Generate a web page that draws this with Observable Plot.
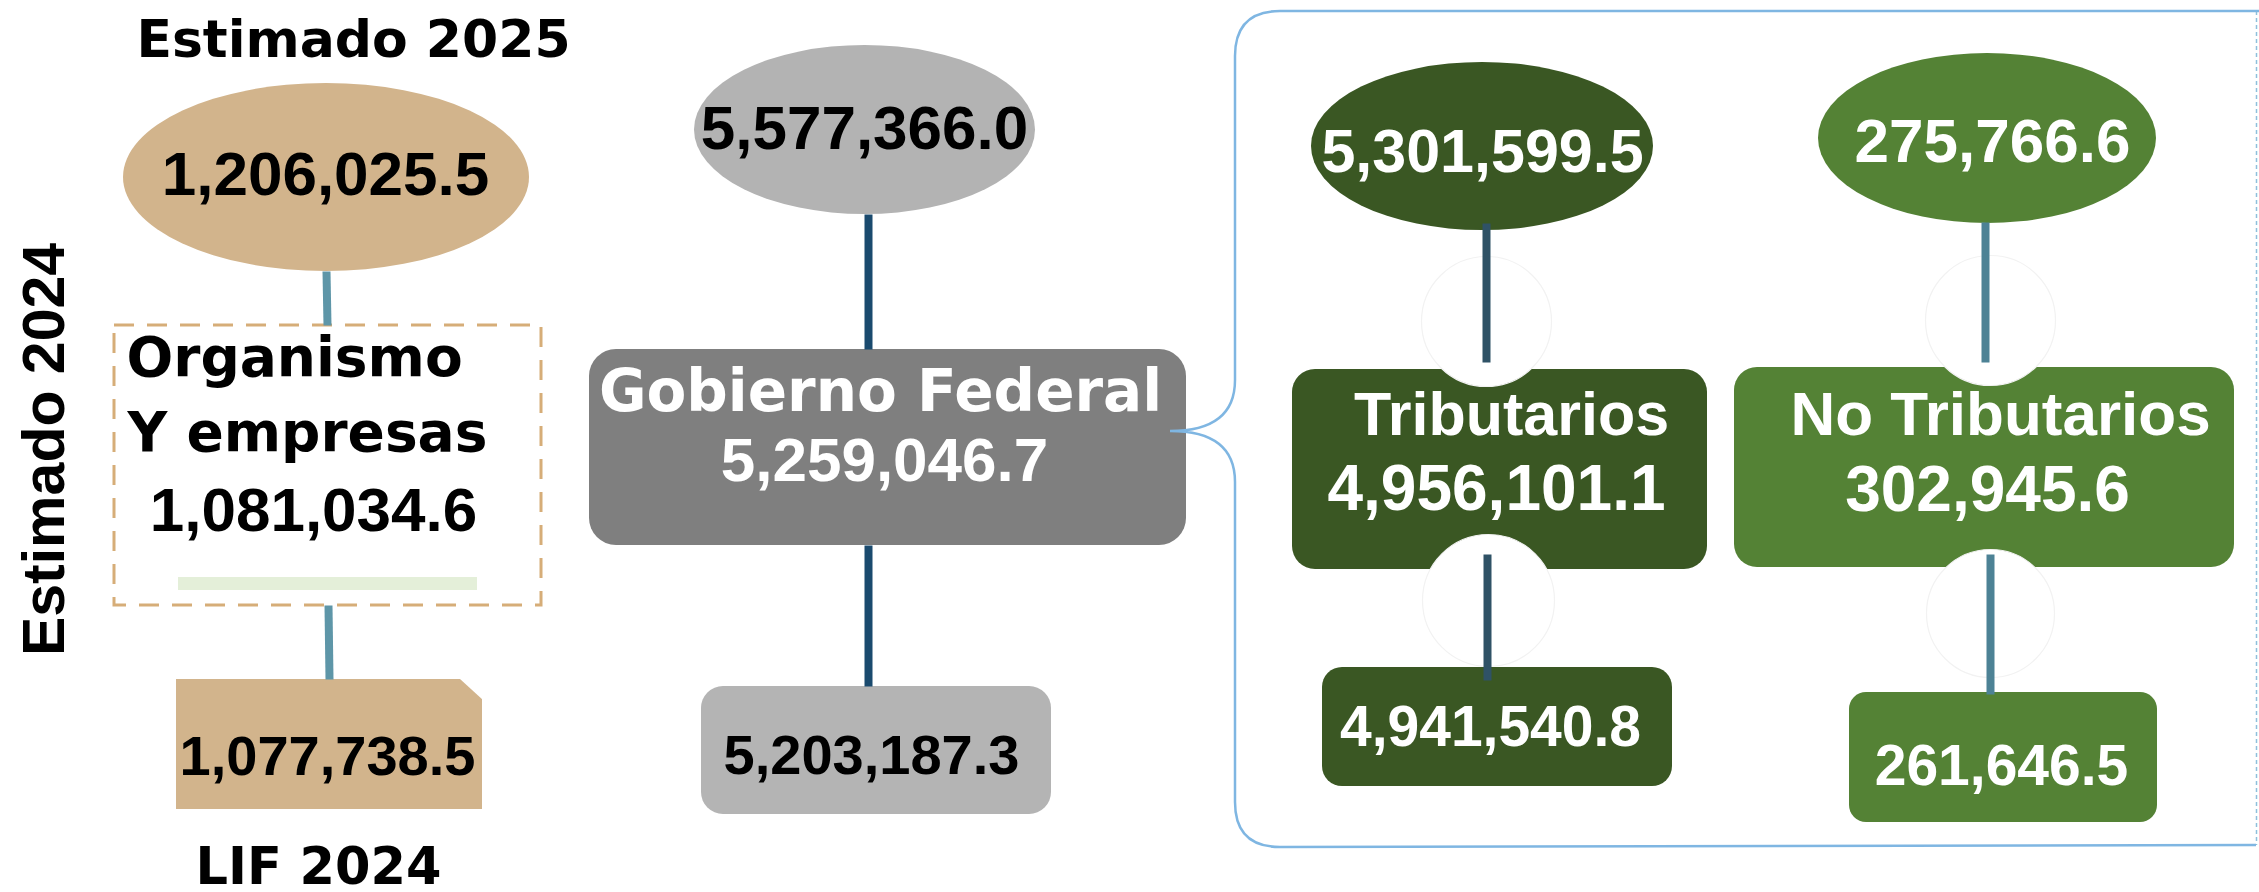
<!DOCTYPE html>
<html>
<head>
<meta charset="utf-8">
<script src="https://cdn.jsdelivr.net/npm/d3@7"></script>
<script src="https://cdn.jsdelivr.net/npm/@observablehq/plot@0.6"></script>
<style>
  html, body { margin: 0; padding: 0; background: #ffffff; }
  #chart svg { display: block; }
</style>
</head>
<body>
<div id="chart"></div>
<script>
// ---------------- DATA ----------------
const columns = ["Organismo y empresas", "Gobierno Federal", "Tributarios", "No Tributarios"];
const titleLines = [["Organismo", "Y empresas"], ["Gobierno Federal"], ["Tributarios"], ["No Tributarios"]];
const estimado2025 = [1206025.5, 5577366.0, 5301599.5, 275766.6];
const estimado2024 = [1081034.6, 5259046.7, 4956101.1, 302945.6];
const lif2024 = [1077738.5, 5203187.3, 4941540.8, 261646.5];
const rowLabels = ["Estimado 2025", "Estimado 2024", "LIF 2024"];

// ---------------- LAYOUT (positions / sizes) ----------------
const W = 2259, H = 892;
const layout = [
  { // Organismo y empresas
    ell: {x1: 123, x2: 529, y1: 83, y2: 271}, ellText: {x: 325, y: 194, size: 62},
    mid: {x1: 114, x2: 541, y1: 325, y2: 605, r: 0},
    title: [{x: 126, y: 375, size: 55, anchor: "start"}, {x: 127, y: 450, size: 55, anchor: "start"}],
    midText: {x: 313, y: 530, size: 62},
    low: {x1: 176, x2: 482, y1: 679, y2: 809, r: 0}, lowText: {x: 327, y: 774, size: 56},
    conn: [{x1: 326, y1: 271, x2: 327, y2: 325}, {x1: 328, y1: 605, x2: 329, y2: 679}],
    notches: []
  },
  { // Gobierno Federal
    ell: {x1: 694, x2: 1035, y1: 45, y2: 214}, ellText: {x: 864, y: 148, size: 62},
    mid: {x1: 589, x2: 1186, y1: 349, y2: 545, r: 27},
    title: [{x: 880, y: 410, size: 58, anchor: "middle"}],
    midText: {x: 884, y: 480, size: 62},
    low: {x1: 701, x2: 1051, y1: 686, y2: 814, r: 22}, lowText: {x: 871, y: 773, size: 56},
    conn: [{x1: 868, y1: 214, x2: 868, y2: 349}, {x1: 868, y1: 545, x2: 868, y2: 686}],
    notches: []
  },
  { // Tributarios
    ell: {x1: 1311, x2: 1653, y1: 62, y2: 230}, ellText: {x: 1482, y: 171, size: 61},
    mid: {x1: 1292, x2: 1707, y1: 369, y2: 569, r: 23},
    title: [{x: 1511, y: 434, size: 61, anchor: "middle"}],
    midText: {x: 1496, y: 509, size: 64},
    low: {x1: 1322, x2: 1672, y1: 667, y2: 786, r: 20}, lowText: {x: 1490, y: 745, size: 57},
    conn: [{x1: 1486, y1: 223, x2: 1486, y2: 362}, {x1: 1487, y1: 554, x2: 1487, y2: 680}],
    notches: [{x: 1486, y: 321, r: 65}, {x: 1488, y: 600, r: 66}]
  },
  { // No Tributarios
    ell: {x1: 1818, x2: 2156, y1: 53, y2: 223}, ellText: {x: 1992, y: 161, size: 62},
    mid: {x1: 1734, x2: 2234, y1: 367, y2: 567, r: 23},
    title: [{x: 2000, y: 434, size: 62, anchor: "middle"}],
    midText: {x: 1987, y: 510, size: 64},
    low: {x1: 1849, x2: 2157, y1: 692, y2: 822, r: 17}, lowText: {x: 2001, y: 784, size: 57},
    conn: [{x1: 1985, y1: 222, x2: 1985, y2: 362}, {x1: 1990, y1: 554, x2: 1990, y2: 694}],
    notches: [{x: 1990, y: 320, r: 65}, {x: 1990, y: 613, r: 64}]
  }
];
const rowLabelPos = [
  {x: 353, y: 56, size: 52, rotate: 0},
  {x: 45, y: 449, size: 59, rotate: -90},
  {x: 318, y: 883, size: 51, rotate: 0}
];
const greenBar = {x1: 178, x2: 477, y1: 577, y2: 590};
const fold = {w: 22, h: 21};
const frame = {left: 1235, top: 11, bottom: 847, right: 2256, tipX: 1170, tipY: 431, r: 45, arm: 51};

// ---------------- STYLES ----------------
const styles = [
  {ell: "#d2b48c", mid: "#ffffff", low: "#d2b48c", conn: "#5e96a8", ellInk: "#000000", midInk: "#000000", lowInk: "#000000"},
  {ell: "#b3b3b3", mid: "#7f7f7f", low: "#b4b4b4", conn: "#1a4a6e", ellInk: "#000000", midInk: "#ffffff", lowInk: "#000000"},
  {ell: "#3a5723", mid: "#3a5723", low: "#3a5723", conn: "#2f5266", ellInk: "#ffffff", midInk: "#ffffff", lowInk: "#ffffff"},
  {ell: "#548235", mid: "#548235", low: "#548235", conn: "#4d8295", ellInk: "#ffffff", midInk: "#ffffff", lowInk: "#ffffff"}
];
const wordFont = "'DejaVu Sans', sans-serif";
const numFont = "'Liberation Sans', Arial, sans-serif";
const fmt = d3.format(",.1f");

// ---------------- MARKS ----------------
const marks = [];

// bracket / frame around the Gobierno Federal breakdown
function frameMark(index, scales) {
  const sx = scales && scales.x ? scales.x : (v => v);
  const sy = scales && scales.y ? scales.y : (v => v);
  const f = frame;
  const p = d3.path();
  p.moveTo(sx(W), sy(f.top));
  p.lineTo(sx(f.left + f.r), sy(f.top));
  p.quadraticCurveTo(sx(f.left), sy(f.top), sx(f.left), sy(f.top + f.r));
  p.lineTo(sx(f.left), sy(f.tipY - f.arm));
  p.quadraticCurveTo(sx(f.left), sy(f.tipY), sx(f.tipX), sy(f.tipY));
  p.quadraticCurveTo(sx(f.left), sy(f.tipY), sx(f.left), sy(f.tipY + f.arm));
  p.lineTo(sx(f.left), sy(f.bottom - f.r));
  p.quadraticCurveTo(sx(f.left), sy(f.bottom), sx(f.left + f.r), sy(f.bottom));
  p.lineTo(sx(f.right), sy(f.bottom - 2));
  const el = document.createElementNS("http://www.w3.org/2000/svg", "path");
  el.setAttribute("d", p.toString());
  el.setAttribute("fill", "none");
  el.setAttribute("stroke", "#7fb6e2");
  el.setAttribute("stroke-width", "2.5");
  return el;
}
marks.push(Plot.ruleX([frame.right], {y1: frame.top, y2: frame.bottom - 2, stroke: "#8fc0dc", strokeWidth: 1.5, strokeDasharray: "4,3"}));

columns.forEach((name, i) => {
  const g = layout[i], s = styles[i];
  // mid boxes
  if (i === 0) {
    marks.push(Plot.rect([g.mid], {x1: "x1", x2: "x2", y1: "y1", y2: "y2", fill: "#ffffff",
      stroke: "#d6ad78", strokeWidth: 3, strokeDasharray: "20,13"}));
    marks.push(Plot.rect([greenBar], {x1: "x1", x2: "x2", y1: "y1", y2: "y2", fill: "#e4efd9"}));
  } else {
    marks.push(Plot.rect([g.mid], {x1: "x1", x2: "x2", y1: "y1", y2: "y2", fill: s.mid, rx: g.mid.r, ry: g.mid.r}));
  }
  // low boxes
  marks.push(Plot.rect([g.low], {x1: "x1", x2: "x2", y1: "y1", y2: "y2", fill: s.low, rx: g.low.r, ry: g.low.r}));
  if (i === 0) {
    const c = [
      {x: g.low.x2 - fold.w, y1: g.low.y1 - 1, y2: g.low.y1},
      {x: g.low.x2 + 1, y1: g.low.y1 - 1, y2: g.low.y1 + fold.h}
    ];
    marks.push(Plot.areaY(c, {x: "x", y1: "y1", y2: "y2", fill: "#ffffff"}));
  }
  // ellipses
  const e = g.ell;
  marks.push(Plot.rect([e], {x1: "x1", x2: "x2", y1: "y1", y2: "y2", fill: s.ell,
    rx: (e.x2 - e.x1) / 2, ry: (e.y2 - e.y1) / 2}));
  // puzzle notches
  g.notches.forEach(n => {
    marks.push(Plot.dot([n], {x: "x", y: "y", r: n.r, fill: "#ffffff", stroke: "#f2f2f2", strokeWidth: 1.2}));
  });
  // connectors
  marks.push(Plot.link(g.conn, {x1: "x1", y1: "y1", x2: "x2", y2: "y2", stroke: s.conn, strokeWidth: 8}));

  // texts
  const t1 = g.ellText;
  marks.push(Plot.text([estimado2025[i]], {x: () => t1.x, y: () => t1.y, text: d => fmt(d),
    fontSize: t1.size, fontFamily: numFont, fontWeight: "bold", fill: s.ellInk, lineAnchor: "bottom", textAnchor: "middle"}));
  titleLines[i].forEach((line, k) => {
    const tp = g.title[k];
    marks.push(Plot.text([line], {x: () => tp.x, y: () => tp.y, text: d => d,
      fontSize: tp.size, fontFamily: (i >= 2 ? numFont : wordFont), fontWeight: "bold", fill: s.midInk,
      lineAnchor: "bottom", textAnchor: tp.anchor}));
  });
  const t2 = g.midText;
  marks.push(Plot.text([estimado2024[i]], {x: () => t2.x, y: () => t2.y, text: d => fmt(d),
    fontSize: t2.size, fontFamily: numFont, fontWeight: "bold", fill: s.midInk, lineAnchor: "bottom", textAnchor: "middle"}));
  const t3 = g.lowText;
  marks.push(Plot.text([lif2024[i]], {x: () => t3.x, y: () => t3.y, text: d => fmt(d),
    fontSize: t3.size, fontFamily: numFont, fontWeight: "bold", fill: s.lowInk, lineAnchor: "bottom", textAnchor: "middle"}));
});

// frame drawn above the boxes so its tip touches the Gobierno Federal box
marks.push(frameMark);

// row labels
rowLabels.forEach((lab, k) => {
  const p = rowLabelPos[k];
  marks.push(Plot.text([lab], {x: () => p.x, y: () => p.y, text: d => d,
    fontSize: p.size, fontFamily: p.rotate ? numFont : wordFont, fontWeight: "bold", fill: "#000000",
    rotate: p.rotate, lineAnchor: p.rotate ? "middle" : "bottom", textAnchor: "middle"}));
});

const chart = Plot.plot({
  width: W,
  height: H,
  margin: 0,
  style: {background: "#ffffff", overflow: "visible"},
  x: {domain: [0, W], range: [0, W], axis: null},
  y: {domain: [0, H], range: [0, H], axis: null},
  marks
});
document.getElementById("chart").appendChild(chart);
</script>
</body>
</html>
